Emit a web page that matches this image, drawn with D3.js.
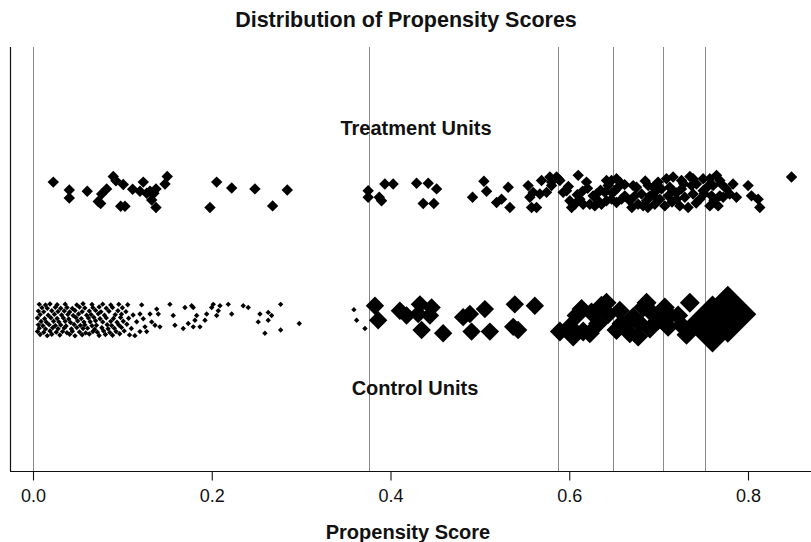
<!DOCTYPE html>
<html>
<head>
<meta charset="utf-8">
<script src="https://cdn.jsdelivr.net/npm/d3@7"></script>
<style>
  html, body { margin: 0; padding: 0; background: #fff; }
  svg { display: block; }
  text { font-family: "Liberation Sans", Arial, Helvetica, sans-serif; fill: #111; }
</style>
</head>
<body>
<svg id="chart" width="811" height="542"></svg>
<script>
// ---------------- DATA ----------------
const chartTitle = "Distribution of Propensity Scores";
const xAxisLabel = "Propensity Score";
const groupLabels = ["Treatment Units", "Control Units"];
const xTicks = [0.0, 0.2, 0.4, 0.6, 0.8];

// subclass cut points (vertical reference lines)
const subclassCuts = [0.0, 0.376, 0.5885, 0.649, 0.706, 0.752];
// control weight per subclass (symbol size multiplier)
const subclassWeights = [0.27, 0.92, 1.0, 1.0, 1.0, 2.85];

// treated units: [propensity score, jitter in -1..1]
const treated = [
  [0.0227,0.54],[0.0406,-0.33],[0.0406,0.11],[0.0607,0.04],[0.073,-0.52],[0.0757,-0.63],
  [0.0768,-0.11],[0.0824,0.17],[0.0981,-0.78],[0.1029,-0.78],[0.101,0.41],[0.0928,0.61],
  [0.0898,0.85],[0.1115,0.15],[0.1197,0.04],[0.1234,0.54],[0.1272,-0.07],[0.1309,0.04],
  [0.1353,-0.07],[0.1328,-0.44],[0.1376,-0.85],[0.1376,0.17],[0.1477,0.44],[0.1502,0.85],
  [0.198,-0.85],[0.2055,0.54],[0.2223,0.22],[0.2483,0.17],[0.2681,-0.76],[0.2845,0.11],
  [0.375,-0.29],[0.375,0.07],[0.39,-0.48],[0.3874,-0.29],[0.3937,0.44],[0.403,0.44],
  [0.4366,-0.63],[0.4485,-0.63],[0.4292,0.48],[0.4422,0.48],[0.4516,0.17],[0.4918,-0.29],
  [0.5075,0.04],[0.5045,0.59],[0.5187,-0.57],[0.5243,-0.39],[0.5336,-0.85],[0.5317,0.26],
  [0.5578,-0.85],[0.5634,-0.85],[0.5559,-0.29],[0.5596,-0.02],[0.554,0.35],[0.5671,-0.11],
  [0.5746,-0.02],[0.569,0.63],[0.5802,0.54],[0.5858,0.82],[0.5895,0.63],[0.597,0.07],
  [0.5802,0.35],[0.5783,0.82],[0.5876,0.72],[0.5932,-0.02],[0.6026,-0.85],[0.6063,-0.67],
  [0.6007,-0.48],[0.6119,-0.39],[0.6156,-0.67],[0.61,0.91],[0.6193,0.54],[0.623,-0.67],
  [0.6286,-0.76],[0.6323,-0.48],[0.6267,-0.21],[0.6305,-0.11],[0.6361,-0.67],[0.6417,-0.48],
  [0.6398,-0.02],[0.6435,0.35],[0.6417,0.63],[0.6473,-0.39],[0.6529,-0.57],[0.651,0.07],
  [0.6547,0.26],[0.6585,-0.39],[0.6622,-0.21],[0.6473,0.63],[0.6529,0.72],[0.6566,0.54],
  [0.6678,-0.48],[0.6734,-0.21],[0.6771,-0.67],[0.6827,-0.76],[0.6809,-0.11],[0.6715,0.35],
  [0.6753,0.26],[0.6865,-0.48],[0.6902,-0.21],[0.6957,-0.67],[0.6957,-0.02],[0.7013,-0.39],
  [0.7032,0.17],[0.6883,0.35],[0.6938,0.26],[0.6994,0.54],[0.7069,-0.76],[0.7106,-0.21],
  [0.7125,0.26],[0.7088,0.72],[0.7237,-0.76],[0.733,-0.85],[0.72,-0.39],[0.7293,-0.29],
  [0.7386,-0.11],[0.7162,0.07],[0.7256,0.17],[0.7368,0.35],[0.7162,0.82],[0.7256,0.63],
  [0.7386,0.72],[0.7424,0.44],[0.7461,-0.39],[0.7498,0.07],[0.7498,0.72],[0.7573,-0.76],
  [0.7666,-0.76],[0.7592,-0.21],[0.7685,-0.21],[0.761,0.35],[0.7573,0.72],[0.7685,0.63],
  [0.7759,0.17],[0.7722,-0.29],[0.7796,-0.11],[0.7648,0.91],[0.7871,-0.29],[0.7833,0.44],
  [0.8001,0.35],[0.8039,-0.21],[0.8132,-0.85],[0.8113,-0.39],[0.8487,0.82],
  [0.6090,-0.15],[0.6205,0.20],[0.6350,0.10],[0.6480,-0.05],[0.6620,0.40],[0.6700,-0.85],
  [0.6850,0.60],[0.6980,-0.40],[0.7150,-0.55],[0.7280,0.45],[0.7420,-0.60],[0.7550,0.30],
  [0.7620,-0.45],[0.7700,0.45],[0.7510,-0.10],[0.5990,0.30],[0.6150,0.05],[0.6880,-0.85],
  [0.7200,-0.05],[0.7350,0.85]
];

// control units: [propensity score, jitter in -1..1]
const control = [
  [0.008,-0.74],[0.016,-0.80],[0.021,-0.72],[0.030,-0.77],[0.041,-0.73],[0.047,-0.81],[0.055,-0.75],
  [0.063,-0.71],[0.074,-0.79],[0.081,-0.74],[0.089,-0.78],[0.097,-0.70],[0.108,-0.76],[0.114,-0.80],
  [0.005,-0.57],[0.012,-0.62],[0.019,-0.55],[0.026,-0.61],[0.033,-0.58],[0.038,-0.64],[0.044,-0.56],
  [0.052,-0.60],[0.059,-0.65],[0.067,-0.57],[0.072,-0.61],[0.079,-0.55],[0.086,-0.63],[0.093,-0.58],[0.102,-0.54],
  [0.007,-0.39],[0.014,-0.43],[0.022,-0.37],[0.028,-0.42],[0.035,-0.38],[0.043,-0.44],[0.049,-0.36],
  [0.056,-0.41],[0.061,-0.39],[0.069,-0.45],[0.077,-0.37],[0.084,-0.42],[0.091,-0.40],[0.099,-0.35],[0.110,-0.41],
  [0.006,-0.21],[0.011,-0.26],[0.018,-0.20],[0.025,-0.25],[0.031,-0.22],[0.037,-0.27],[0.046,-0.19],
  [0.053,-0.24],[0.058,-0.21],[0.066,-0.26],[0.071,-0.23],[0.083,-0.20],[0.088,-0.25],[0.096,-0.22],[0.105,-0.18],
  [0.009,-0.03],[0.015,-0.07],[0.023,-0.01],[0.029,-0.05],[0.036,-0.02],[0.042,-0.08],[0.050,0.00],
  [0.057,-0.06],[0.064,-0.04],[0.070,0.01],[0.078,-0.05],[0.087,-0.02],[0.094,-0.07],[0.101,-0.01],[0.116,-0.04],
  [0.005,0.16],[0.013,0.12],[0.020,0.18],[0.027,0.14],[0.034,0.17],[0.040,0.11],[0.048,0.19],
  [0.054,0.13],[0.062,0.16],[0.068,0.20],[0.075,0.12],[0.082,0.17],[0.090,0.14],[0.098,0.19],[0.107,0.15],
  [0.008,0.35],[0.017,0.31],[0.024,0.37],[0.032,0.33],[0.039,0.36],[0.045,0.30],[0.051,0.38],
  [0.060,0.32],[0.065,0.35],[0.073,0.39],[0.080,0.31],[0.092,0.34],[0.099,0.37],[0.112,0.33],
  [0.006,0.54],[0.012,0.50],[0.021,0.56],[0.028,0.52],[0.035,0.55],[0.041,0.49],[0.047,0.57],
  [0.055,0.51],[0.063,0.54],[0.070,0.58],[0.076,0.50],[0.085,0.53],[0.095,0.56],[0.104,0.51],
  [0.010,0.73],[0.016,0.69],[0.025,0.75],[0.031,0.70],[0.038,0.74],[0.044,0.68],[0.052,0.76],
  [0.058,0.71],[0.067,0.73],[0.074,0.77],[0.082,0.70],[0.089,0.74],[0.100,0.72],
  [0.007,0.91],[0.014,0.87],[0.019,0.93],[0.027,0.89],[0.036,0.92],[0.049,0.88],[0.056,0.94],
  [0.066,0.90],[0.078,0.92],[0.087,0.88],[0.096,0.91],[0.106,0.89],
  [0.1197,-0.58],[0.1253,-0.32],[0.1272,-0.58],[0.1234,0.12],[0.1197,0.38],[0.1216,0.88],
  [0.1328,-0.05],[0.1365,-0.23],[0.1309,0.38],[0.142,-0.32],[0.1402,0.38],[0.1384,0.65],
  [0.1532,0.91],[0.1569,0.30],[0.1588,-0.23],[0.1681,-0.41],[0.17,0.74],[0.1737,-0.14],
  [0.1793,-0.32],[0.1812,0.04],[0.1868,-0.32],[0.1831,0.30],[0.1793,0.74],[0.1775,0.83],
  [0.1924,0.04],[0.1943,0.38],[0.1999,0.74],[0.2017,0.91],[0.2055,0.30],[0.2092,0.83],
  [0.2073,0.56],[0.2185,0.91],[0.2223,0.38],[0.2352,0.83],[0.2408,0.74],[0.252,-0.05],
  [0.2539,0.38],[0.2595,-0.67],[0.2632,0.04],[0.2632,0.47],[0.267,0.30],[0.2771,-0.49],
  [0.2771,0.91],[0.2979,-0.14],[0.3714,-0.41],[0.3621,0.04],[0.3591,0.62],
  [0.3862,0.04],[0.3826,0.83],[0.4105,0.56],[0.418,0.30],[0.4348,-0.49],[0.431,0.38],
  [0.4329,0.91],[0.4441,0.30],[0.446,0.74],[0.4589,-0.67],[0.4813,0.21],[0.4907,-0.58],
  [0.4888,0.38],[0.5112,-0.58],[0.5056,0.65],[0.5373,-0.32],[0.5428,-0.49],[0.5391,0.91],
  [0.5615,0.83],
  [0.5895,-0.58],[0.6044,-0.84],[0.6007,-0.32],[0.6156,-0.58],[0.623,-0.67],[0.6082,0.30],
  [0.6138,0.65],[0.6249,0.47],[0.6323,-0.14],[0.6361,0.83],[0.6417,1.0],[0.6435,0.38],
  [0.6529,-0.49],[0.6585,-0.14],[0.6566,0.56],[0.6678,-0.67],[0.6771,-0.84],[0.6715,0.21],
  [0.679,-0.14],[0.6827,0.74],[0.6865,1.0],[0.6938,0.38],[0.6902,-0.41],[0.6994,0.04],
  [0.7106,-0.32],[0.7125,0.30],[0.7069,0.74],[0.7256,-0.23],[0.7312,-0.75],[0.7218,0.30],
  [0.7349,1.0],
  [0.7603,-0.16],[0.7774,0.37]
];

// ---------------- DRAW ----------------
const W = 811, H = 542;
const plot = { left: 10, top: 47, bottom: 471 };
const svg = d3.select("#chart");

const x = d3.scaleLinear().domain([0, 0.8]).range([33, 748]);
const y = d3.scaleLinear().domain([1, 2]).range([321, 192]); // 1 = control, 2 = treated
const JIT = 0.142;
const treatedSize = 5.7;
const controlSize = 10;

function weightOf(v) {
  const i = Math.max(0, d3.bisectRight(subclassCuts, v) - 1);
  return subclassWeights[i];
}
function diamond(r) {
  return `M0,${-r}L${r},0L0,${r}L${-r},0Z`;
}

// title
svg.append("text").attr("x", 406).attr("y", 27).attr("text-anchor", "middle")
  .style("font-size", "21.5px").style("font-weight", "bold").text(chartTitle);

// subclass lines
svg.append("g").selectAll("line").data(subclassCuts).join("line")
  .attr("x1", d => x(d)).attr("x2", d => x(d))
  .attr("y1", plot.top).attr("y2", plot.bottom)
  .attr("stroke", "#8a8a8a").attr("stroke-width", 1).attr("shape-rendering", "crispEdges");

// axes lines (L shaped box)
svg.append("line").attr("x1", plot.left + 0.5).attr("x2", plot.left + 0.5)
  .attr("y1", plot.top).attr("y2", plot.bottom).attr("stroke", "#111").attr("stroke-width", 1.2);
svg.append("line").attr("x1", plot.left).attr("x2", W)
  .attr("y1", plot.bottom + 0.5).attr("y2", plot.bottom + 0.5).attr("stroke", "#111").attr("stroke-width", 1.2);

// x axis ticks
const axis = d3.axisBottom(x).tickValues(xTicks).tickFormat(d3.format(".1f")).tickSize(9).tickPadding(9);
const gAxis = svg.append("g").attr("transform", `translate(0,${plot.bottom + 0.5})`).call(axis);
gAxis.select(".domain").remove();
gAxis.selectAll(".tick line").attr("stroke", "#111").attr("stroke-width", 1.1);
gAxis.selectAll(".tick text").style("font-size", "18px").style("font-family", "'Liberation Sans', Arial, sans-serif").attr("fill", "#111");

// axis title
svg.append("text").attr("x", 408).attr("y", 539).attr("text-anchor", "middle")
  .style("font-size", "20px").style("font-weight", "bold").text(xAxisLabel);

// group labels
svg.append("text").attr("x", 416).attr("y", 135).attr("text-anchor", "middle")
  .style("font-size", "20px").style("font-weight", "bold").text(groupLabels[0]);
svg.append("text").attr("x", 415).attr("y", 395).attr("text-anchor", "middle")
  .style("font-size", "20px").style("font-weight", "bold").text(groupLabels[1]);

// treated points
svg.append("g").selectAll("path").data(treated).join("path")
  .attr("transform", d => `translate(${x(d[0])},${y(2 + d[1] * JIT)})`)
  .attr("d", diamond(treatedSize)).attr("fill", "#000");

// control points (sized by subclass weight)
svg.append("g").selectAll("path").data(control).join("path")
  .attr("transform", d => `translate(${x(d[0])},${y(1 + d[1] * JIT)})`)
  .attr("d", d => diamond(controlSize * weightOf(d[0]))).attr("fill", "#000");
</script>
</body>
</html>
